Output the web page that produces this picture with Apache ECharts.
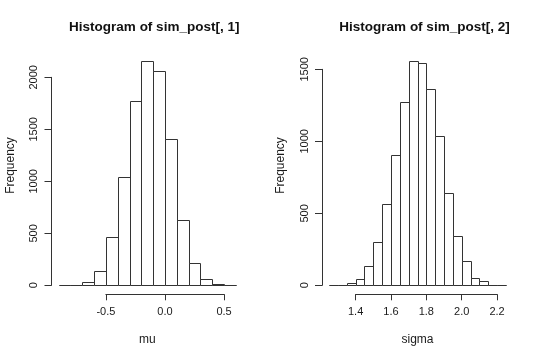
<!DOCTYPE html>
<html>
<head>
<meta charset="utf-8">
<script src="https://cdn.jsdelivr.net/npm/echarts@6/dist/echarts.min.js"></script>
<style>
html,body{margin:0;padding:0;background:#fff;}
#chart{width:540px;height:359px;}
</style>
</head>
<body>
<div id="chart"></div>
<script>
// ---- data ----
var muBreaks = [-0.9,-0.8,-0.7,-0.6,-0.5,-0.4,-0.3,-0.2,-0.1,0.0,0.1,0.2,0.3,0.4,0.5,0.6];
var muCounts = [1,2,29,135,468,1038,1769,2160,2061,1404,631,212,64,13,5];
var muXTicks = [-0.5, 0.5, 0.5];      // min, max, interval
var muYTicks = [0, 2000, 500];

var sigmaBreaks = [1.25,1.30,1.35,1.40,1.45,1.50,1.55,1.60,1.65,1.70,1.75,1.80,1.85,1.90,1.95,2.00,2.05,2.10,2.15,2.20,2.25];
var sigmaCounts = [1,5,18,44,132,301,565,907,1271,1560,1546,1363,1039,643,345,167,49,28,5,1];
var sigmaXTicks = [1.4, 2.2, 0.2];
var sigmaYTicks = [0, 1500, 500];

var titles = ['Histogram of sim_post[, 1]', 'Histogram of sim_post[, 2]'];
var xNames = ['mu', 'sigma'];
var yName = 'Frequency';

// ---- layout ----
var FONT = '"Liberation Sans", Arial, sans-serif';
var TXT = '#1a1a1a', LINE = '#333';
var regions = [
  {L: 51.5, R: 243, T: 51.7, B: 294.3},
  {L: 322, R: 513, T: 51.7, B: 294.3}
];
var panels = [
  {breaks: muBreaks, counts: muCounts, xt: muXTicks, yt: muYTicks},
  {breaks: sigmaBreaks, counts: sigmaCounts, xt: sigmaXTicks, yt: sigmaYTicks}
];

var grids = [], xAxes = [], yAxes = [], series = [], titleOpts = [];
panels.forEach(function (p, i) {
  var r = regions[i];
  var x0 = p.breaks[0], x1 = p.breaks[p.breaks.length - 1];
  var xr = x1 - x0;
  var xlim = [x0 - 0.04 * xr, x1 + 0.04 * xr];
  var cmax = Math.max.apply(null, p.counts);
  var ylim = [-0.04 * cmax, cmax * 1.04];
  function xpx(v) { return r.L + (v - xlim[0]) / (xlim[1] - xlim[0]) * (r.R - r.L); }
  function ypx(v) { return r.B - (v - ylim[0]) / (ylim[1] - ylim[0]) * (r.B - r.T); }

  var g0 = grids.length;
  // plot grid
  grids.push({left: r.L, top: r.T, width: r.R - r.L, height: r.B - r.T});
  xAxes.push({type: 'value', gridIndex: g0, min: xlim[0], max: xlim[1],
    axisLine: {show: false}, axisTick: {show: false}, axisLabel: {show: false}, splitLine: {show: false},
    name: xNames[i], nameLocation: 'middle', nameGap: 39,
    nameTextStyle: {fontFamily: FONT, fontSize: 12, color: TXT}});
  yAxes.push({type: 'value', gridIndex: g0, min: ylim[0], max: ylim[1],
    axisLine: {show: false}, axisTick: {show: false}, axisLabel: {show: false}, splitLine: {show: false},
    name: yName, nameLocation: 'middle', nameGap: 35,
    nameTextStyle: {fontFamily: FONT, fontSize: 12, color: TXT, padding: [0, 0, 0, 15]}});

  // y axis display grid
  var yTop = ypx(p.yt[1]), yBot = ypx(p.yt[0]);
  grids.push({left: r.L, top: yTop, width: 10, height: yBot - yTop});
  xAxes.push({type: 'value', gridIndex: g0 + 1, show: false});
  yAxes.push({type: 'value', gridIndex: g0 + 1, min: p.yt[0], max: p.yt[1], interval: p.yt[2],
    axisLine: {show: true, lineStyle: {color: LINE, width: 1}},
    axisTick: {show: true, length: 7, lineStyle: {color: LINE, width: 1}},
    splitLine: {show: false},
    axisLabel: {rotate: 90, margin: 12, fontFamily: FONT, fontSize: 11, color: TXT,
      formatter: function (v) { return String(v); }}});

  // x axis display grid
  var xl = xpx(p.xt[0]), xrr = xpx(p.xt[1]);
  grids.push({left: xl, top: r.B - 10, width: xrr - xl, height: 10});
  xAxes.push({type: 'value', gridIndex: g0 + 2, min: p.xt[0], max: p.xt[1], interval: p.xt[2],
    axisLine: {show: true, onZero: false, lineStyle: {color: LINE, width: 1}},
    axisTick: {show: true, length: 6, lineStyle: {color: LINE, width: 1}},
    splitLine: {show: false},
    axisLabel: {margin: 12, fontFamily: FONT, fontSize: 11, color: TXT,
      formatter: function (v) { return v.toFixed(1); }}});
  yAxes.push({type: 'value', gridIndex: g0 + 2, show: false});

  var data = p.counts.map(function (c, k) { return [p.breaks[k], p.breaks[k + 1], c]; });
  series.push({
    type: 'custom', xAxisIndex: g0, yAxisIndex: g0, clip: false, silent: true,
    data: data,
    renderItem: function (params, api) {
      var a = api.coord([api.value(0), 0]);
      var b = api.coord([api.value(1), api.value(2)]);
      return {type: 'rect',
        shape: {x: Math.round(a[0]) + 0.5, y: Math.round(b[1]) + 0.5,
                width: Math.round(b[0]) - Math.round(a[0]), height: Math.round(a[1]) - Math.round(b[1])},
        style: {fill: '#fff', stroke: LINE, lineWidth: 1}};
    }
  });

  titleOpts.push({text: titles[i], left: (r.L + r.R) / 2 + 2, top: 15, textAlign: 'center',
    textStyle: {fontFamily: FONT, fontSize: 13.5, fontWeight: 'bold', color: '#111'}});
});

var chart = echarts.init(document.getElementById('chart'), null, {renderer: 'canvas'});
chart.setOption({
  animation: false,
  backgroundColor: '#fff',
  title: titleOpts,
  grid: grids,
  xAxis: xAxes,
  yAxis: yAxes,
  series: series
});
</script>
</body>
</html>
